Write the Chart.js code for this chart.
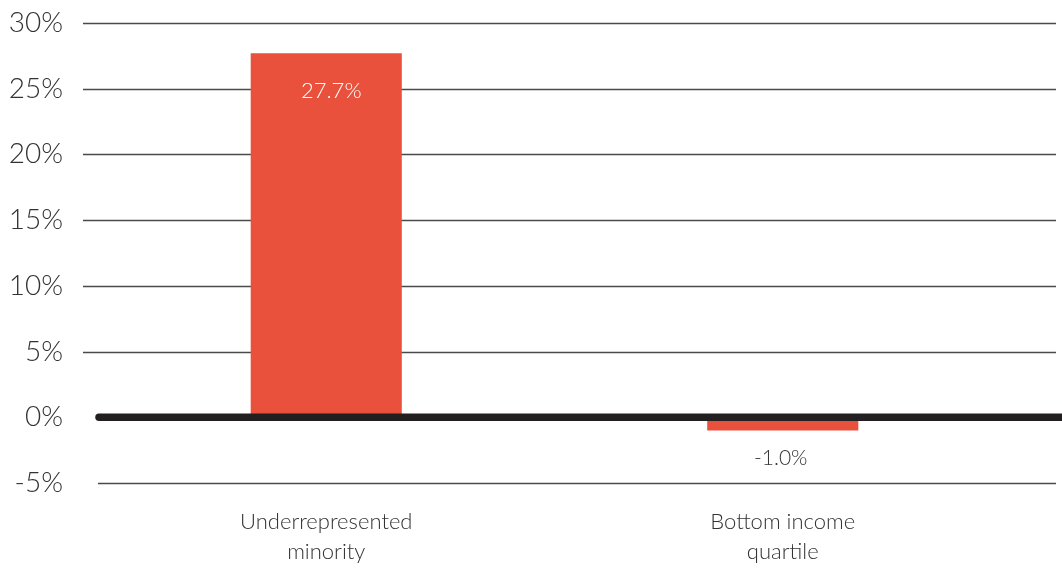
<!DOCTYPE html>
<html>
<head>
<meta charset="utf-8">
<script src="https://cdn.jsdelivr.net/npm/chart.js@4.4.1/dist/chart.umd.min.js"></script>
<style>
  html, body { margin: 0; padding: 0; background: #fff; }
  #wrap { width: 1062px; height: 571px; position: relative; }
</style>
</head>
<body>
<div id="wrap"><canvas id="chart"></canvas></div>
<script>
// categories and values
const categories = [['Underrepresented', 'minority'], ['Bottom income', 'quartile']];
const values = [27.7, -1.0];
const yMin = -5;
const yMax = 30;
const yStep = 5;

const BAR_RED = '#e9513c';
const INK = '#231f20';
const TEXT = '#333333';

Chart.defaults.font.family = 'Lato, "Open Sans", sans-serif';

// horizontal rules, heavy zero line and value labels
const rulesPlugin = {
  id: 'rules',
  beforeDatasetsDraw(chart) {
    const { ctx, chartArea, scales } = chart;
    const y = scales.y;
    ctx.save();
    ctx.lineWidth = 1.4;
    ctx.strokeStyle = '#4a4a4a';
    y.ticks.forEach(t => {
      if (t.value === 0) return;
      const py = Math.round(y.getPixelForValue(t.value)) + 0.5;
      const x0 = t.value < 0 ? chartArea.left : chartArea.left - 15;
      ctx.beginPath();
      ctx.moveTo(x0, py);
      ctx.lineTo(chartArea.right + 45, py);
      ctx.stroke();
    });
    ctx.restore();
  },
  afterDatasetsDraw(chart) {
    const { ctx, chartArea, scales } = chart;
    const y0 = scales.y.getPixelForValue(0);
    ctx.save();
    ctx.lineWidth = 7.5;
    ctx.lineCap = 'round';
    ctx.strokeStyle = INK;
    ctx.beginPath();
    ctx.moveTo(chartArea.left + 1, y0);
    ctx.lineTo(chart.width + 10, y0);
    ctx.stroke();

    // value labels
    const bars = chart.getDatasetMeta(0).data;
    ctx.textAlign = 'center';
    ctx.textBaseline = 'middle';
    bars.forEach((bar, i) => {
      const v = values[i];
      const txt = v.toFixed(1) + '%';
      if (v >= 0) {
        ctx.font = '300 22px Lato, sans-serif';
        ctx.fillStyle = '#ffffff';
        ctx.fillText(txt, bar.x + 5, bar.y + 38);
      } else {
        ctx.font = '300 21px Lato, sans-serif';
        ctx.fillStyle = TEXT;
        ctx.fillText(txt, bar.x - 2, bar.y + 28);
      }
    });
    ctx.restore();
  }
};

new Chart(document.getElementById('chart'), {
  type: 'bar',
  data: {
    labels: categories,
    datasets: [{
      data: values,
      backgroundColor: BAR_RED,
      borderWidth: 0,
      barPercentage: 0.331,
      categoryPercentage: 1
    }]
  },
  options: {
    responsive: true,
    maintainAspectRatio: false,
    animation: false,
    layout: { padding: { top: 23, right: 51, bottom: 0, left: 0 } },
    plugins: {
      legend: { display: false },
      tooltip: { enabled: false }
    },
    scales: {
      x: {
        offset: true,
        grid: { display: false, drawTicks: false },
        border: { display: false },
        afterFit(scale) {
          scale.height = 88;
          scale.paddingLeft = 0;
          scale.paddingRight = 0;
        },
        ticks: {
          color: TEXT,
          padding: 24,
          maxRotation: 0,
          autoSkip: false,
          font: { size: 22, weight: 300, lineHeight: 1.36 }
        }
      },
      y: {
        min: yMin,
        max: yMax,
        grid: { display: false, drawTicks: false },
        border: { display: false },
        afterFit(scale) {
          scale.width = 98;
          scale.paddingTop = 0;
          scale.paddingBottom = 0;
        },
        ticks: {
          stepSize: yStep,
          color: TEXT,
          padding: 35,
          font: { size: 28, weight: 300 },
          callback: v => v + '%'
        }
      }
    }
  },
  plugins: [rulesPlugin]
});
</script>
</body>
</html>
